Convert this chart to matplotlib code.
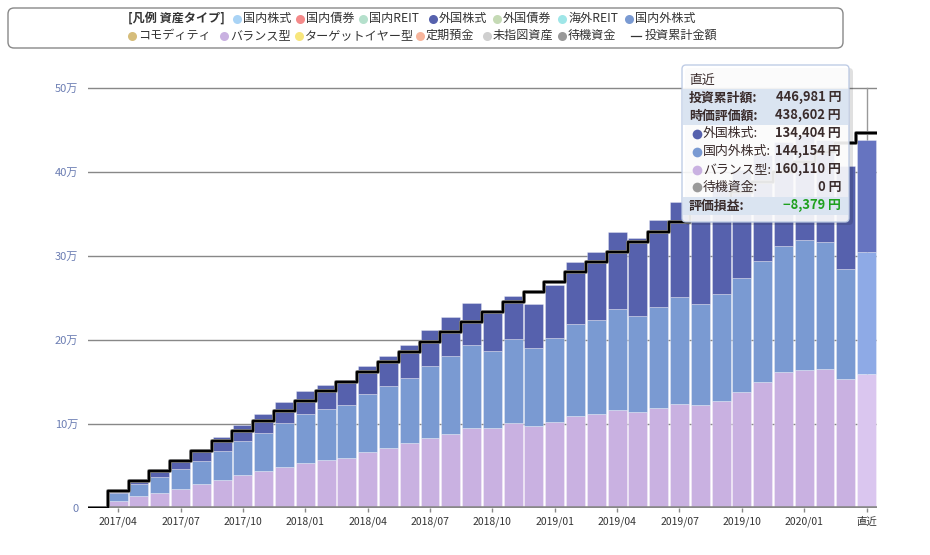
import matplotlib as mpl
mpl.use('Agg')
import matplotlib.pyplot as plt
from matplotlib.patches import FancyBboxPatch, Rectangle
import matplotlib.patheffects as pe
import numpy as np
import pandas as pd

plt.rcParams['font.family'] = ['Noto Sans CJK JP', 'DejaVu Sans']

# categories (monthly, last one = 直近)
months = [p.strftime('%Y/%m') for p in pd.period_range('2017-04', '2020-03', freq='M')] + ['直近']
tick_labels = ['2017/04', '2017/07', '2017/10', '2018/01', '2018/04', '2018/07', '2018/10',
               '2019/01', '2019/04', '2019/07', '2019/10', '2020/01', '直近']

# valuation per asset type (円)
balance = [8000, 14300, 17900, 22600, 28600, 33300, 39300, 44000, 49200, 53800, 57100, 59500,
           66700, 71000, 77000, 82900, 88500, 95200, 94800, 100800, 97600, 102000, 109500, 111900,
           116700, 114300, 119000, 123800, 122600, 127400, 138100, 150000, 161900, 164300, 165500,
           153600, 160110]
global_stock = [10200, 14300, 19400, 24200, 27700, 34200, 40500, 45700, 52000, 58100, 60800, 63100,
                69000, 74200, 78200, 86100, 92500, 98800, 92100, 100400, 92900, 100400, 109500, 111900,
                120200, 114300, 120300, 127400, 120100, 127400, 135300, 144000, 150400, 154700, 151200,
                130900, 144154]
foreign_stock = [800, 5500, 8700, 11200, 13900, 16600, 19000, 22200, 25300, 27400, 28500, 29800,
                 33300, 35800, 38800, 42900, 46400, 50000, 45600, 51200, 52400, 63100, 73900, 81000,
                 91700, 92800, 103600, 113100, 127300, 130200, 128600, 126000, 123700, 125000, 121300,
                 122500, 134404]
# cumulative invested amount (円)
invested = [20000, 32100, 43700, 55600, 67500, 79400, 91700, 103600, 115100, 127000, 138900, 150500,
            161500, 173400, 185300, 197200, 209100, 221000, 233300, 244900, 256800, 269000, 280600,
            292500, 304400, 316300, 328600, 340500, 352400, 364300, 376200, 388100, 400000, 411900,
            423800, 435000, 446981]

legend_row1 = [('国内株式', '#a9d3f5'), ('国内債券', '#f48a8a'), ('国内REIT', '#b5e0cc'),
               ('外国株式', '#5661ad'), ('外国債券', '#c5dab5'), ('海外REIT', '#9fe6e8'),
               ('国内外株式', '#7a9ad2')]
legend_row2 = [('コモディティ', '#d6bd7b'), ('バランス型', '#c9b1e1'), ('ターゲットイヤー型', '#f8e67c'),
               ('定期預金', '#f7b59c'), ('未指図資産', '#cfcfcf'), ('待機資金', '#999999')]

W, H = 930, 555
fig = plt.figure(figsize=(W / 100, H / 100), dpi=100)

# main axes, placed in pixels
y0, y_top = 508, 60
ax = fig.add_axes([88 / W, (H - y0) / H, (877 - 88) / W, (y0 - y_top) / H])
ppu = 84 / 100000  # pixels per yen
ax.set_ylim(0, (y0 - y_top) / ppu)
ax.set_xlim(-1.45, 36.5)
for s in ax.spines.values():
    s.set_visible(False)

x = np.arange(len(months))
bal = np.array(balance)
gl = np.array(global_stock)
fs = np.array(foreign_stock)

c_bal = ['#c9b1e1'] * (len(x) - 1) + ['#dac6ef']
c_gl = ['#7a9ad2'] * (len(x) - 1) + ['#8eaae6']
c_fs = ['#5661ad'] * (len(x) - 1) + ['#6674c0']
ec = (1, 1, 1, 0.35)
ax.bar(x, bal, width=0.91, color=c_bal, edgecolor=ec, linewidth=0.6, zorder=2)
ax.bar(x, gl, width=0.91, bottom=bal, color=c_gl, edgecolor=ec, linewidth=0.6, zorder=2)
ax.bar(x, fs, width=0.91, bottom=bal + gl, color=c_fs, edgecolor=ec, linewidth=0.6, zorder=2)

# grid lines
for v in range(0, 500001, 100000):
    ax.axhline(v, color='#888888', lw=1, zorder=1)
ax.axhline(0, color='#888888', lw=2.6, zorder=2.5)
# hover line at 直近
ax.plot([x[-1], x[-1]], [0, 500000], color='#999999', lw=1, zorder=1)

# cumulative invested step line
sx = [-1.45] + list(x - 0.5) + [36.5]
sy = [0] + invested + [invested[-1]]
ax.step(sx, sy, where='post', color='black', lw=1.7, zorder=4,
        path_effects=[pe.Stroke(linewidth=2.8, foreground='#8a8a8a'), pe.Normal()])

ax.set_yticks(range(0, 500001, 100000))
ax.set_yticklabels(['0'] + [f'{v}万' for v in range(10, 51, 10)])
ax.tick_params(axis='y', length=0, pad=7, labelsize=8, labelcolor='#6b7db3')
tpos = [months.index(t) for t in tick_labels]
ax.set_xticks(tpos)
ax.set_xticklabels(tick_labels)
ax.tick_params(axis='x', length=3, width=1, color='#888888', pad=3, labelsize=7.5, labelcolor='#333333')

# overlay in pixel coords for legend and tooltip
ov = fig.add_axes([0, 0, 1, 1])
ov.set_xlim(0, W)
ov.set_ylim(H, 0)
ov.axis('off')
ov.set_zorder(10)
ov.patch.set_alpha(0)

ov.add_patch(FancyBboxPatch((8, 8), 835, 40, boxstyle='round,pad=0,rounding_size=6',
                            fc='white', ec='#888888', lw=1))
ov.text(128, 18.5, '[凡例 資産タイプ]', fontsize=8.7, fontweight='bold', color='#333333', va='center')
r1x = [237, 300, 363, 433, 497, 562, 629]
for (name, col), dx in zip(legend_row1, r1x):
    ov.plot(dx, 18.5, 'o', ms=6.5, color=col, mec='none')
    ov.text(dx + 6, 18.5, name, fontsize=8.7, color='#333333', va='center')
r2x = [132, 224, 299, 420, 487, 562]
for (name, col), dx in zip(legend_row2, r2x):
    ov.plot(dx, 35.5, 'o', ms=6.5, color=col, mec='none')
    ov.text(dx + 6, 35.5, name, fontsize=8.7, color='#333333', va='center')
ov.plot([631, 641], [35.5, 35.5], color='#333333', lw=0.9)
ov.text(645, 35.5, '投資累計金額', fontsize=8.7, color='#333333', va='center')

# tooltip
ov.add_patch(FancyBboxPatch((685, 68), 168, 157, boxstyle='round,pad=0,rounding_size=4',
                            fc='#000000', ec='none', alpha=0.12))
ov.add_patch(FancyBboxPatch((682, 65), 167, 157, boxstyle='round,pad=0,rounding_size=4',
                            fc='white', ec='#b9c8e3', lw=1, alpha=0.9))
for yb, hb in [(89, 36), (197, 18)]:
    ov.add_patch(Rectangle((683, yb), 165, hb, fc='#dae4f1', ec='none'))
tc = '#3a2c2c'
ov.text(689, 80.5, '直近', fontsize=9.3, color=tc, va='center')
rows = [('投資累計額:', '446,981 円', None, 97.5, True),
        ('時価評価額:', '438,602 円', None, 115.5, True),
        ('外国株式:', '134,404 円', '#5661ad', 133.5, False),
        ('国内外株式:', '144,154 円', '#7a9ad2', 151.5, False),
        ('バランス型:', '160,110 円', '#c9b1e1', 169.5, False),
        ('待機資金:', '0 円', '#999999', 187, False),
        ('評価損益:', '−8,379 円', None, 205.5, True)]
for lab, val, dot, yy, bold in rows:
    if dot:
        ov.plot(697, yy, 'o', ms=7, color=dot, mec='none')
        ov.text(703, yy, lab, fontsize=9.3, color=tc, va='center')
    else:
        ov.text(689, yy, lab, fontsize=9.3, color=tc, va='center', fontweight='bold')
    vc = '#1ea01e' if val.startswith('−') else tc
    ov.text(841, yy, val, fontsize=9.3, color=vc, va='center', ha='right', fontweight='bold')

fig.savefig('out.png', dpi=100)
